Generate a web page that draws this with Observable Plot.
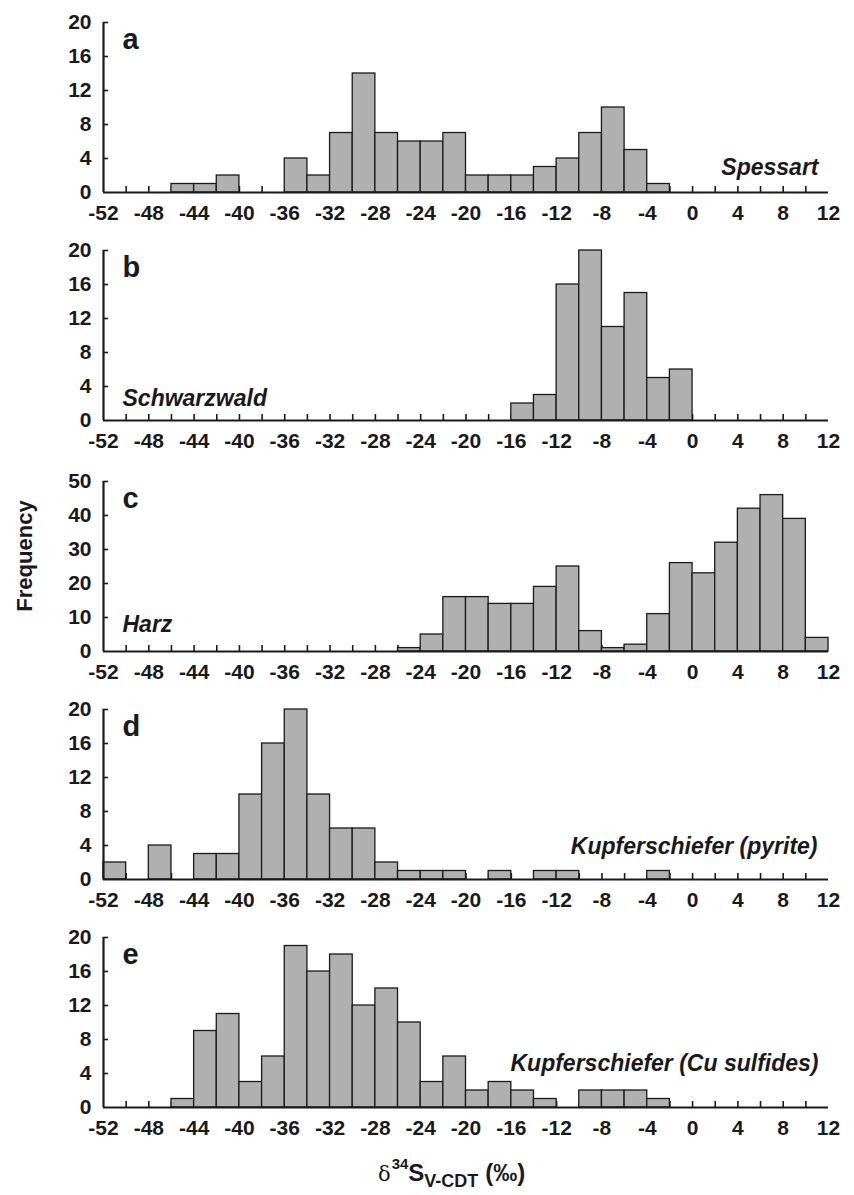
<!DOCTYPE html>
<html><head><meta charset="utf-8">
<script src="https://cdn.jsdelivr.net/npm/d3@7"></script>
<script src="https://cdn.jsdelivr.net/npm/@observablehq/plot@0.6"></script>
<style>
body{margin:0;background:#fff;}
#wrap{position:relative;width:854px;height:1195px;overflow:hidden;font-family:"Liberation Sans",Arial,sans-serif;color:#1a1a1a;}
#wrap svg{display:block;}
#ylab{position:absolute;left:25px;top:556px;transform:translate(-50%,-50%) rotate(-90deg);font-weight:bold;font-size:22px;white-space:nowrap;}
#xlab{position:absolute;left:378px;top:1161px;font-weight:bold;font-size:24px;white-space:nowrap;line-height:1;}
#xlab .d{font-family:"DejaVu Serif","Liberation Serif",serif;font-weight:normal;font-size:21px;}
#xlab sup{font-size:15px;vertical-align:baseline;position:relative;top:-12px;margin-left:1px;}
#xlab sub{font-size:18px;vertical-align:baseline;position:relative;top:6px;}
#xlab .u{font-size:24px;margin-left:7px;}
</style></head><body>
<div id="wrap"><div id="panels"></div>
<div id="ylab">Frequency</div>
<div id="xlab"><span class="d">δ</span><sup>34</sup>S<sub>V-CDT</sub><span class="u">(‰)</span></div>
</div>
<script>
// bin left edges (‰), bin width 2
const binStart = [-52,-50,-48,-46,-44,-42,-40,-38,-36,-34,-32,-30,-28,-26,-24,-22,-20,-18,-16,-14,-12,-10,-8,-6,-4,-2,0,2,4,6,8,10];
const binWidth = 2;
const xLabels = [-52,-48,-44,-40,-36,-32,-28,-24,-20,-16,-12,-8,-4,0,4,8,12];
const xMinorTicks = [-50,-48,-46,-44,-42,-40,-38,-36,-34,-32,-30,-28,-26,-24,-22,-20,-18,-16,-14,-12,-10,-8,-6,-4,-2,0,2,4,6,8,10];

// counts per bin
const spessart    = [0,0,0,1,1,2,0,0,4,2,7,14,7,6,6,7,2,2,2,3,4,7,10,5,1,0,0,0,0,0,0,0];
const schwarzwald = [0,0,0,0,0,0,0,0,0,0,0,0,0,0,0,0,0,0,2,3,16,20,11,15,5,6,0,0,0,0,0,0];
const harz        = [0,0,0,0,0,0,0,0,0,0,0,0,0,1,5,16,16,14,14,19,25,6,1,2,11,26,23,32,42,46,39,4];
const pyrite      = [2,0,4,0,3,3,10,16,20,10,6,6,2,1,1,1,0,1,0,1,1,0,0,0,1,0,0,0,0,0,0,0];
const cuSulfides  = [0,0,0,1,9,11,3,6,19,16,18,12,14,10,3,6,2,3,2,1,0,2,2,2,1,0,0,0,0,0,0,0];

const panelLetters = ["a","b","c","d","e"];
const panelNames = ["Spessart","Schwarzwald","Harz","Kupferschiefer (pyrite)","Kupferschiefer (Cu sulfides)"];
const yTicks20 = [0,4,8,12,16,20];
const yTicks50 = [0,10,20,30,40,50];

const panels = [
  {counts: spessart, yTicks: yTicks20, name: panelNames[0], side: "right", dx: -10, dy: -18, mt: 22, h: 228},
  {counts: schwarzwald, yTicks: yTicks20, name: panelNames[1], side: "left", dx: 19, dy: -15, mt: 22, h: 228},
  {counts: harz, yTicks: yTicks50, name: panelNames[2], side: "left", dx: 19, dy: -20, mt: 25, h: 231},
  {counts: pyrite, yTicks: yTicks20, name: panelNames[3], side: "right", dx: -11, dy: -26, mt: 22, h: 228},
  {counts: cuSulfides, yTicks: yTicks20, name: panelNames[4], side: "right", dx: -10, dy: -37, mt: 22, h: 228}
];

const ink = "#1a1a1a";
const host = document.getElementById("panels");
panels.forEach((p, i) => {
  const data = binStart.map((x, j) => ({x0: x, x1: x + binWidth, n: p.counts[j]})).filter(d => d.n > 0);
  const yMax = p.yTicks[p.yTicks.length - 1];
  const plotH = 170;
  const tickLenY = yMax * 6 / plotH;
  const tickLenX = 0.45;
  const chart = Plot.plot({
    width: 854, height: p.h,
    marginLeft: 103, marginRight: 26, marginTop: p.mt, marginBottom: p.h - p.mt - plotH,
    style: {fontFamily: "'Liberation Sans', Arial, sans-serif", fontWeight: "bold", fontSize: "21px", color: ink, background: "white", overflow: "visible"},
    x: {domain: [-52, 12]},
    y: {domain: [0, yMax]},
    marks: [
      Plot.ruleX(xMinorTicks, {x: d => d, y1: 0, y2: tickLenY, stroke: ink, strokeWidth: 1.6}),
      Plot.ruleY(p.yTicks.filter(v => v > 0), {y: d => d, x1: -52, x2: -52 + tickLenX, stroke: ink, strokeWidth: 1.6}),
      Plot.rectY(data, {x1: "x0", x2: "x1", y: "n", fill: "#b0b0b0", stroke: ink, strokeWidth: 1.3}),
      Plot.ruleY([0], {stroke: ink, strokeWidth: 2.2}),
      Plot.ruleX([-52], {stroke: ink, strokeWidth: 2.2}),
      Plot.axisX({ticks: xLabels, tickSize: 0, tickPadding: 13, tickFormat: d => String(d), fontSize: 21, fontWeight: "bold", label: null}),
      Plot.axisY({ticks: p.yTicks, tickSize: 0, tickPadding: 12, tickFormat: d => String(d), fontSize: 21, fontWeight: "bold", label: null}),
      Plot.text([panelLetters[i]], {text: d => d, frameAnchor: "top-left", textAnchor: "start", lineAnchor: "bottom", dx: 19, dy: 26, fontSize: 29, fontWeight: "bold", fill: ink}),
      Plot.text([p.name], {text: d => d, frameAnchor: p.side === "right" ? "bottom-right" : "bottom-left",
        textAnchor: p.side === "right" ? "end" : "start", lineAnchor: "bottom", dx: p.dx, dy: p.dy,
        fontSize: 23, fontWeight: "bold", fontStyle: "italic", fill: ink})
    ]
  });
  host.appendChild(chart);
});
</script>
</body></html>
